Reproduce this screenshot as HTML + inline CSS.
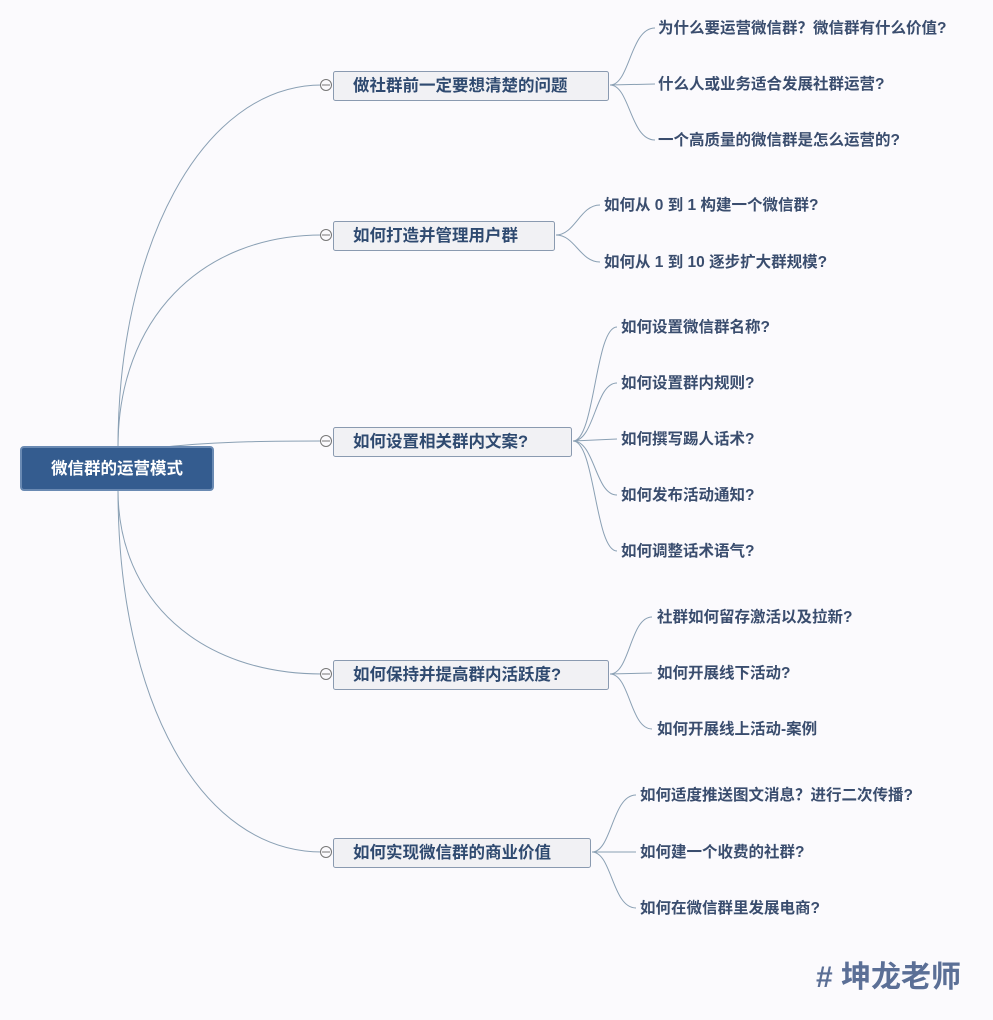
<!DOCTYPE html>
<html><head><meta charset="utf-8"><style>
body{margin:0;background:#fbfafd;}
svg{display:block}
text{font-family:"Liberation Sans","Noto Sans CJK SC",sans-serif;font-weight:bold;}
.b{font-size:16.5px;fill:#2f4a70}
.c{font-size:15.5px;fill:#3a4d6e}
</style></head><body>
<svg width="993" height="1020" viewBox="0 0 993 1020">
<rect width="993" height="1020" fill="#fbfafd"/>
<g fill="none" stroke="#8aa0b4" stroke-width="1">
<path d="M118 447 C118 250 200 85 322 85"/>
<path d="M118 447 C118 320 200 235 322 235"/>
<path d="M165 447 C220 441 280 441 322 441"/>
<path d="M118 490 C118 600 200 674 322 674"/>
<path d="M118 490 C118 700 200 852 322 852"/>
<path d="M610 85 C630 85 630 28 655 28"/><path d="M610 85 L655 84"/><path d="M610 85 C630 85 630 140 655 140"/>
<path d="M556 235 C575 235 580 205 600 205"/><path d="M556 235 C575 235 580 262 600 262"/>
<path d="M573 441 C595 441 595 327 617 327"/><path d="M573 441 C595 441 595 383 617 383"/><path d="M573 441 L617 439"/><path d="M573 441 C595 441 595 495 617 495"/><path d="M573 441 C595 441 595 551 617 551"/>
<path d="M610 674 C630 674 630 617 652 617"/><path d="M610 674 L652 673"/><path d="M610 674 C630 674 630 729 652 729"/>
<path d="M592 852 C612 852 612 795 636 795"/><path d="M592 852 L636 852"/><path d="M592 852 C612 852 612 908 636 908"/>
</g>
<rect x="21" y="447" width="192" height="43" rx="3" fill="#345c8f" stroke="#6a8ab3" stroke-width="2"/>
<text x="117" y="474" text-anchor="middle" style="font-size:16.5px;fill:#fff">微信群的运营模式</text>
<g fill="#f1f1f4" stroke="#8a9ab0">
<rect x="333.5" y="71.5" width="275" height="29" rx="2"/>
<rect x="333.5" y="221.5" width="221" height="29" rx="2"/>
<rect x="333.5" y="427.5" width="238" height="29" rx="2"/>
<rect x="333.5" y="660.5" width="275" height="29" rx="2"/>
<rect x="333.5" y="838.5" width="257" height="29" rx="2"/>
</g>
<g fill="#fbfafd" stroke="#777">
<circle cx="326" cy="85" r="5.5"/><circle cx="326" cy="235" r="5.5"/><circle cx="326" cy="441" r="5.5"/><circle cx="326" cy="674" r="5.5"/><circle cx="326" cy="852" r="5.5"/>
</g>
<g stroke="#777"><path d="M322 85h8M322 235h8M322 441h8M322 674h8M322 852h8"/></g>
<text class="b" x="353" y="91">做社群前一定要想清楚的问题</text>
<text class="b" x="353" y="241">如何打造并管理用户群</text>
<text class="b" x="353" y="447">如何设置相关群内文案?</text>
<text class="b" x="353" y="680">如何保持并提高群内活跃度?</text>
<text class="b" x="353" y="858">如何实现微信群的商业价值</text>
<text class="c" x="658" y="33">为什么要运营微信群？微信群有什么价值?</text>
<text class="c" x="658" y="89">什么人或业务适合发展社群运营?</text>
<text class="c" x="658" y="145">一个高质量的微信群是怎么运营的?</text>
<text class="c" x="604" y="210">如何从 0 到 1 构建一个微信群?</text>
<text class="c" x="604" y="267">如何从 1 到 10 逐步扩大群规模?</text>
<text class="c" x="621" y="332">如何设置微信群名称?</text>
<text class="c" x="621" y="388">如何设置群内规则?</text>
<text class="c" x="621" y="444">如何撰写踢人话术?</text>
<text class="c" x="621" y="500">如何发布活动通知?</text>
<text class="c" x="621" y="556">如何调整话术语气?</text>
<text class="c" x="657" y="622">社群如何留存激活以及拉新?</text>
<text class="c" x="657" y="678">如何开展线下活动?</text>
<text class="c" x="657" y="734">如何开展线上活动-案例</text>
<text class="c" x="640" y="800">如何适度推送图文消息？进行二次传播?</text>
<text class="c" x="640" y="857">如何建一个收费的社群?</text>
<text class="c" x="640" y="913">如何在微信群里发展电商?</text>
<text x="816" y="987" style="font-size:30px;fill:#5b6f96">#&#160;坤龙老师</text>
</svg>
</body></html>
